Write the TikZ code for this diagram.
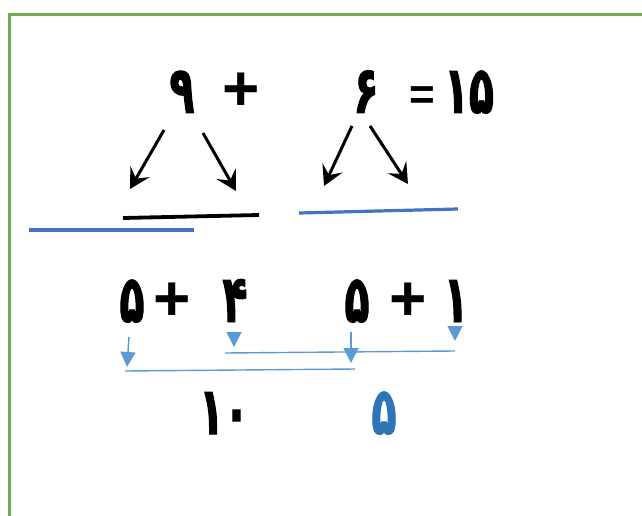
\documentclass[tikz,border=0pt]{standalone}
\usepackage{fontspec}
\usetikzlibrary{arrows.meta}
\newfontfamily\pfont[Script=Arabic,FakeStretch=0.62,BoldFeatures={FakeBold=1.5}]{DejaVu Sans}
\newfontfamily\lfont{Liberation Sans}
\definecolor{frameg}{HTML}{70AD47}
\definecolor{lineblue}{HTML}{4472C4}
\definecolor{arrblue}{HTML}{5B9BD5}
\definecolor{numblue}{HTML}{2E75B6}
\tikzset{
  dig/.style={inner sep=0pt, anchor=base, font=\pfont\bfseries\fontsize{66}{66}\selectfont},
  op/.style={inner sep=0pt, anchor=base, font=\lfont\bfseries\fontsize{64}{64}\selectfont},
  blackarr/.style={line width=3pt, -{Stealth[length=20pt,width=22pt,inset=8pt]}},
  bluearr/.style={arrblue, line width=1.5pt, -{Triangle[length=15pt,width=15pt]}},
  thinblue/.style={arrblue, line width=1.4pt},
}
\begin{document}
\begin{tikzpicture}[x=1pt,y=-1pt]
\useasboundingbox (0,0) rectangle (642,516);
% frame
\draw[frameg, line width=2.5pt] (9.5,517) -- (9.5,14.5) -- (643,14.5);
% top row
\node[dig] (n9) at (182,113) {۹};
\node[op] (p1) at (241,111) {+};
\node[dig] (n6) at (366,113) {۶};
\node[op, font=\lfont\bfseries\fontsize{44}{44}\selectfont] (eq) at (422,110) {=};
\node[dig] (n15) at (469,113) {۱۵};
% black arrows
\coordinate (a1s) at (164,130); \coordinate (a1e) at (130,189);
\coordinate (a2s) at (203,133); \coordinate (a2e) at (236,191);
\coordinate (a3s) at (352,126); \coordinate (a3e) at (324,186);
\coordinate (a4s) at (370,126); \coordinate (a4e) at (408,184);
\draw[blackarr] (a1s) -- (a1e);
\draw[blackarr] (a2s) -- (a2e);
\draw[blackarr] (a3s) -- (a3e);
\draw[blackarr] (a4s) -- (a4e);
% answer lines
\coordinate (k1) at (123,218); \coordinate (k2) at (259,215);
\draw[line width=3.8pt] (k1) -- (k2);
\coordinate (b1) at (29,230); \coordinate (b2) at (194,230);
\draw[lineblue, line width=3.2pt] (b1) -- (b2);
\coordinate (c1) at (299,213); \coordinate (c2) at (458,209);
\draw[lineblue, line width=3.2pt] (c1) -- (c2);
% middle row
\node[dig] (m5a) at (132,322) {۵};
\node[op] (p2) at (172,320) {+};
\node[dig] (m4) at (235,322) {۴};
\node[dig] (m5b) at (357,322) {۵};
\node[op] (p3) at (408,320) {+};
\node[dig] (m1) at (456,322) {۱};
% blue arrows
\coordinate (d1s) at (129,337); \coordinate (d1e) at (127,367);
\coordinate (d2s) at (234,332); \coordinate (d2e) at (234,347);
\coordinate (d3s) at (351,332); \coordinate (d3e) at (351,363);
\coordinate (d4s) at (455,326); \coordinate (d4e) at (455,341);
\draw[bluearr] (d1s) -- (d1e);
\draw[bluearr] (d2s) -- (d2e);
\draw[bluearr] (d3s) -- (d3e);
\draw[bluearr] (d4s) -- (d4e);
\coordinate (h1) at (225,353); \coordinate (h2) at (455,351);
\draw[thinblue] (h1) -- (h2);
\coordinate (g1) at (125,371); \coordinate (g2) at (355,369);
\draw[thinblue] (g1) -- (g2);
% results
\node[dig] (r10) at (224,434) {۱۰};
\node[dig, text=numblue] (r5) at (384,434) {۵};
\end{tikzpicture}
\end{document}
